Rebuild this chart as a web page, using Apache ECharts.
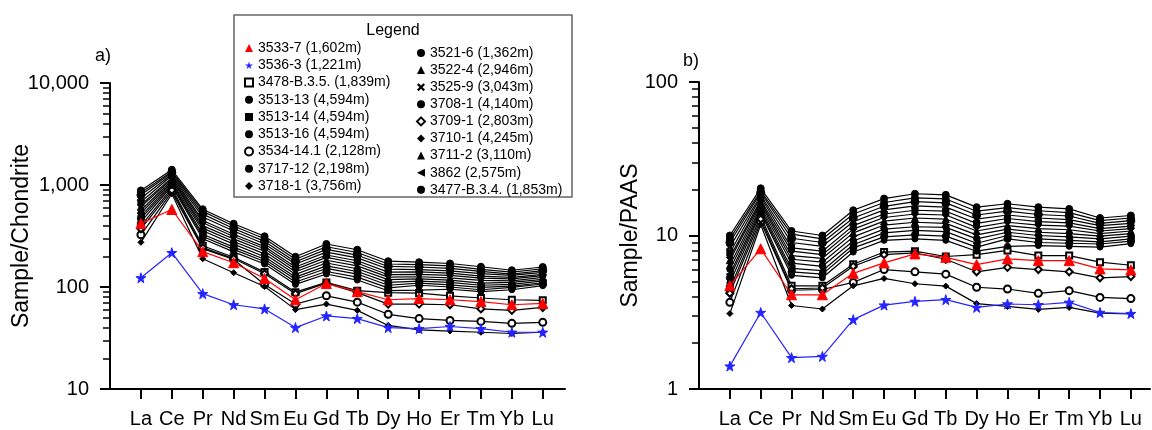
<!DOCTYPE html>
<html><head><meta charset="utf-8">
<script src="https://cdn.jsdelivr.net/npm/echarts@6/dist/echarts.min.js"></script>
<style>html,body{margin:0;padding:0;background:#fff}#c{width:1152px;height:430px}</style>
</head><body><div id="c"></div>
<script>
// ---------- categories & tick labels ----------
const elements = ['La','Ce','Pr','Nd','Sm','Eu','Gd','Tb','Dy','Ho','Er','Tm','Yb','Lu'];
const chondriteTicks = [10, 100, 1000, 10000];
const chondriteTickLabels = ['10', '100', '1,000', '10,000'];
const paasTicks = [1, 10, 100];
const paasTickLabels = ['1', '10', '100'];

// ---------- sample names (legend order) ----------
const sampleNames = ['3533-7 (1,602m)','3536-3 (1,221m)','3478-B.3.5. (1,839m)','3513-13 (4,594m)','3513-14 (4,594m)',
  '3513-16 (4,594m)','3534-14.1 (2,128m)','3717-12 (2,198m)','3718-1 (3,756m)','3521-6 (1,362m)','3522-4 (2,946m)',
  '3525-9 (3,043m)','3708-1 (4,140m)','3709-1 (2,803m)','3710-1 (4,245m)','3711-2 (3,110m)','3862 (2,575m)','3477-B.3.4. (1,853m)'];

// ---------- a) Sample / Chondrite ----------
const ch_3533_7   = [419, 575, 222, 173, 121, 75, 108, 90, 75, 77, 75, 72, 67, 69];
const ch_3536_3   = [123, 217, 86, 67, 61, 40, 52, 49, 40, 39, 41, 39, 36, 36];
const ch_3478_B35 = [398, 931, 254, 196, 140, 89, 111, 92, 88, 87, 82, 78, 75, 74];
const ch_3513_13  = [885, 1411, 578, 417, 314, 198, 264, 232, 179, 175, 170, 158, 146, 157];
const ch_3513_14  = [681, 1237, 448, 329, 249, 157, 206, 181, 140, 141, 137, 128, 124, 133];
const ch_3513_16  = [434, 973, 297, 221, 168, 106, 134, 117, 92, 93, 95, 90, 94, 103];
const ch_3534_141 = [325, 855, 238, 186, 106, 68, 82, 71, 54, 49, 47, 46, 44, 45];
const ch_3717_12  = [797, 1321, 518, 375, 280, 177, 234, 205, 159, 157, 152, 142, 134, 145];
const ch_3718_1   = [274, 820, 189, 138, 101, 60, 68, 59, 42, 38, 37, 36, 35, 36];
const ch_3521_6   = [841, 1355, 551, 396, 297, 187, 248, 218, 168, 166, 161, 149, 140, 151];
const ch_3522_4   = [611, 1147, 400, 296, 224, 141, 183, 161, 125, 126, 123, 116, 115, 124];
const ch_3525_9   = [743, 1272, 486, 354, 264, 168, 220, 193, 150, 148, 144, 135, 130, 139];
const ch_3708_1   = [531, 1070, 356, 263, 198, 125, 161, 142, 111, 114, 111, 104, 106, 115];
const ch_3709_1   = [372, 890, 243, 190, 135, 86, 109, 88, 68, 68, 67, 61, 59, 63];
const ch_3710_1   = [637, 1182, 427, 313, 237, 149, 195, 171, 132, 133, 130, 122, 120, 129];
const ch_3711_2   = [566, 1112, 378, 279, 211, 133, 172, 151, 118, 120, 117, 109, 111, 119];
const ch_3862     = [496, 1036, 329, 246, 187, 119, 152, 134, 104, 109, 105, 99, 102, 110];
const ch_3477_B34 = [469, 1001, 313, 234, 178, 112, 142, 125, 98, 104, 100, 94, 99, 107];

// ---------- b) Sample / PAAS ----------
const pa_3533_7   = [4.71, 8.19, 4.11, 4.11, 5.67, 6.63, 7.59, 7.21, 6.46, 7.04, 6.86, 6.86, 6.06, 5.97];
const pa_3536_3   = [1.41, 3.15, 1.60, 1.63, 2.83, 3.52, 3.72, 3.82, 3.40, 3.58, 3.54, 3.67, 3.15, 3.10];
const pa_3478_B35 = [4.5, 13.4, 4.7, 4.7, 6.5, 7.8, 7.9, 7.3, 7.5, 8.0, 7.4, 7.4, 6.7, 6.4];
const pa_3513_13  = [10.0, 20.3, 10.7, 10.0, 14.6, 17.4, 18.7, 18.4, 15.3, 16.1, 15.3, 14.9, 13.0, 13.5];
const pa_3513_14  = [7.7, 17.8, 8.3, 7.9, 11.6, 13.8, 14.6, 14.4, 12.0, 12.9, 12.3, 12.1, 11.1, 11.5];
const pa_3513_16  = [4.9, 14.0, 5.5, 5.3, 7.8, 9.3, 9.5, 9.3, 7.9, 8.5, 8.6, 8.5, 8.4, 8.85];
const pa_3534_141 = [3.67, 12.3, 4.4, 4.45, 4.95, 6.0, 5.8, 5.6, 4.6, 4.48, 4.2, 4.37, 3.95, 3.88];
const pa_3717_12  = [9.0, 19.0, 9.6, 9.0, 13.0, 15.5, 16.6, 16.3, 13.6, 14.4, 13.7, 13.4, 12.0, 12.5];
const pa_3718_1   = [3.1, 11.8, 3.5, 3.32, 4.7, 5.25, 4.85, 4.68, 3.6, 3.45, 3.3, 3.4, 3.12, 3.08];
const pa_3521_6   = [9.5, 19.5, 10.2, 9.5, 13.8, 16.4, 17.6, 17.3, 14.4, 15.2, 14.5, 14.1, 12.5, 13.0];
const pa_3522_4   = [6.9, 16.5, 7.4, 7.1, 10.4, 12.4, 13.0, 12.8, 10.7, 11.6, 11.1, 10.9, 10.3, 10.7];
const pa_3525_9   = [8.4, 18.3, 9.0, 8.5, 12.3, 14.7, 15.6, 15.3, 12.8, 13.6, 13.0, 12.7, 11.6, 12.0];
const pa_3708_1   = [6.0, 15.4, 6.6, 6.3, 9.2, 11.0, 11.4, 11.3, 9.5, 10.5, 10.0, 9.8, 9.5, 9.9];
const pa_3709_1   = [4.2, 12.8, 4.5, 4.55, 6.3, 7.5, 7.7, 7.0, 5.8, 6.2, 6.0, 5.8, 5.3, 5.4];
const pa_3710_1   = [7.2, 17.0, 7.9, 7.5, 11.0, 13.1, 13.8, 13.6, 11.3, 12.2, 11.7, 11.5, 10.7, 11.1];
const pa_3711_2   = [6.4, 16.0, 7.0, 6.7, 9.8, 11.7, 12.2, 12.0, 10.1, 11.0, 10.5, 10.3, 9.9, 10.3];
const pa_3862     = [5.6, 14.9, 6.1, 5.9, 8.7, 10.4, 10.8, 10.6, 8.9, 10.0, 9.5, 9.3, 9.1, 9.5];
const pa_3477_B34 = [5.3, 14.4, 5.8, 5.6, 8.3, 9.8, 10.1, 9.9, 8.4, 9.5, 9.0, 8.9, 8.8, 9.2];

const chondriteSets = [ch_3533_7, ch_3536_3, ch_3478_B35, ch_3513_13, ch_3513_14, ch_3513_16, ch_3534_141, ch_3717_12, ch_3718_1,
  ch_3521_6, ch_3522_4, ch_3525_9, ch_3708_1, ch_3709_1, ch_3710_1, ch_3711_2, ch_3862, ch_3477_B34];
const paasSets = [pa_3533_7, pa_3536_3, pa_3478_B35, pa_3513_13, pa_3513_14, pa_3513_16, pa_3534_141, pa_3717_12, pa_3718_1,
  pa_3521_6, pa_3522_4, pa_3525_9, pa_3708_1, pa_3709_1, pa_3710_1, pa_3711_2, pa_3862, pa_3477_B34];

// ---------- styling ----------
const FONT = '"Liberation Sans", Arial, sans-serif';
const STAR = 'path://M50,0 L61,35 L98,35 L68,57 L79,91 L50,70 L21,91 L32,57 L2,35 L39,35 Z';
const XMARK = 'path://M0,2 L2,0 L5,3 L8,0 L10,2 L7,5 L10,8 L8,10 L5,7 L2,10 L0,8 L3,5 Z';
const LTRI = 'path://M0,5 L10,0 L10,10 Z';
const symbols = ['triangle', STAR, 'emptyRect', 'circle', 'rect', 'circle', 'emptyCircle', 'circle', 'diamond',
  'circle', 'triangle', XMARK, 'circle', 'emptyDiamond', 'diamond', 'triangle', LTRI, 'circle'];
const symbolSizes = [10, 10, 6, 7, 6, 6, 7, 8, 6, 7, 7, 7, 6, 7, 7, 7, 7, 7];
const colors = sampleNames.map((n, i) => i === 0 ? '#ff0000' : (i === 1 ? '#2424ff' : '#000000'));

const elemIdx = elements.map((e, i) => i);
const nearestLabel = (ticks, labels, v) => {
  let best = 0;
  ticks.forEach((t, i) => { if (Math.abs(Math.log10(t) - Math.log10(v)) < Math.abs(Math.log10(ticks[best]) - Math.log10(v))) best = i; });
  return labels[best];
};
const minorOf = (ticks) => {
  const out = [];
  for (let k = 0; k < ticks.length - 1; k++) for (let m = 2; m <= 9; m++) out.push(ticks[k] * m);
  return out;
};

function xAxisCfg(g, max) {
  return {
    type: 'value', gridIndex: g, min: -1, max: max,
    axisLine: { show: true, onZero: false, lineStyle: { color: '#000', width: 2 } },
    axisTick: { show: true, length: 10, customValues: elemIdx, lineStyle: { color: '#000', width: 2 } },
    axisLabel: { show: true, customValues: elemIdx, formatter: v => elements[Math.round(v)] || '',
      fontSize: 20, color: '#000', margin: 20, fontFamily: FONT },
    splitLine: { show: false }
  };
}
function yAxisMain(g, ticks, labels, name, gap) {
  return {
    type: 'log', logBase: 10, gridIndex: g, min: ticks[0], max: ticks[ticks.length - 1], position: 'left', offset: 0,
    axisLine: { show: true, onZero: false, lineStyle: { color: '#000', width: 2 } },
    axisTick: { show: true, length: 10, customValues: ticks, lineStyle: { color: '#000', width: 2 } },
    axisLabel: { show: true, customValues: ticks, formatter: v => nearestLabel(ticks, labels, v),
      fontSize: 20, color: '#000', margin: 21, fontFamily: FONT },
    splitLine: { show: false },
    name: name, nameLocation: 'middle', nameRotate: 90, nameGap: gap, nameMoveOverlap: false,
    nameTextStyle: { fontSize: 23, color: '#000', fontFamily: FONT }
  };
}
function yAxisMinor(g, ticks) {
  return {
    type: 'log', logBase: 10, gridIndex: g, min: ticks[0], max: ticks[ticks.length - 1], position: 'left', offset: 0,
    axisLine: { show: false, onZero: false },
    axisTick: { show: true, length: 7, customValues: minorOf(ticks), lineStyle: { color: '#000', width: 1.5 } },
    axisLabel: { show: false },
    splitLine: { show: false }
  };
}

const series = [];
[chondriteSets, paasSets].forEach((sets, g) => {
  sets.forEach((arr, i) => {
    series.push({
      type: 'line', name: sampleNames[i], xAxisIndex: g, yAxisIndex: g * 2,
      data: elements.map((e, k) => [k, arr[k]]),
      symbol: symbols[i], symbolSize: symbolSizes[i],
      lineStyle: { color: colors[i], width: 1.2 },
      itemStyle: { color: colors[i], borderColor: colors[i] },
      z: i < 2 ? 4 : 2, animation: false, silent: true
    });
  });
});

const legendItem = (n) => ({ name: n, icon: symbols[sampleNames.indexOf(n)] });
const legendBase = {
  orient: 'vertical', itemWidth: 8, itemHeight: 8, padding: 0, selectedMode: false, z: 10,
  textStyle: { fontSize: 14, color: '#000', lineHeight: 14, fontFamily: FONT }
};

const chart = echarts.init(document.getElementById('c'), null, { renderer: 'canvas' });
chart.setOption({
  backgroundColor: '#fff',
  animation: false,
  grid: [
    { left: 110, top: 83, width: 455, height: 306 },
    { left: 699, top: 82, width: 451, height: 307 }
  ],
  xAxis: [xAxisCfg(0, 13.72), xAxisCfg(1, 13.62)],
  yAxis: [
    yAxisMain(0, chondriteTicks, chondriteTickLabels, 'Sample/Chondrite', 77),
    yAxisMinor(0, chondriteTicks),
    yAxisMain(1, paasTicks, paasTickLabels, 'Sample/PAAS', 57),
    yAxisMinor(1, paasTicks)
  ],
  legend: [
    Object.assign({}, legendBase, { data: sampleNames.slice(0, 9).map(legendItem), left: 244, top: 41, itemGap: 3.25 }),
    Object.assign({}, legendBase, { data: sampleNames.slice(9).map(legendItem), left: 416, top: 46, itemGap: 3.1 })
  ],
  graphic: [
    { type: 'rect', z: 6, shape: { x: 234, y: 15, width: 338, height: 182 }, style: { fill: '#fff', stroke: '#666', lineWidth: 1.5 } },
    { type: 'text', z: 11, x: 393, y: 31, style: { text: 'Legend', fontSize: 16, fontFamily: FONT, fill: '#000', align: 'center', verticalAlign: 'middle' } },
    { type: 'text', z: 11, x: 95, y: 56, style: { text: 'a)', fontSize: 18, fontFamily: FONT, fill: '#000', align: 'left', verticalAlign: 'middle' } },
    { type: 'text', z: 11, x: 683, y: 61, style: { text: 'b)', fontSize: 18, fontFamily: FONT, fill: '#000', align: 'left', verticalAlign: 'middle' } }
  ],
  series: series
});
</script></body></html>
